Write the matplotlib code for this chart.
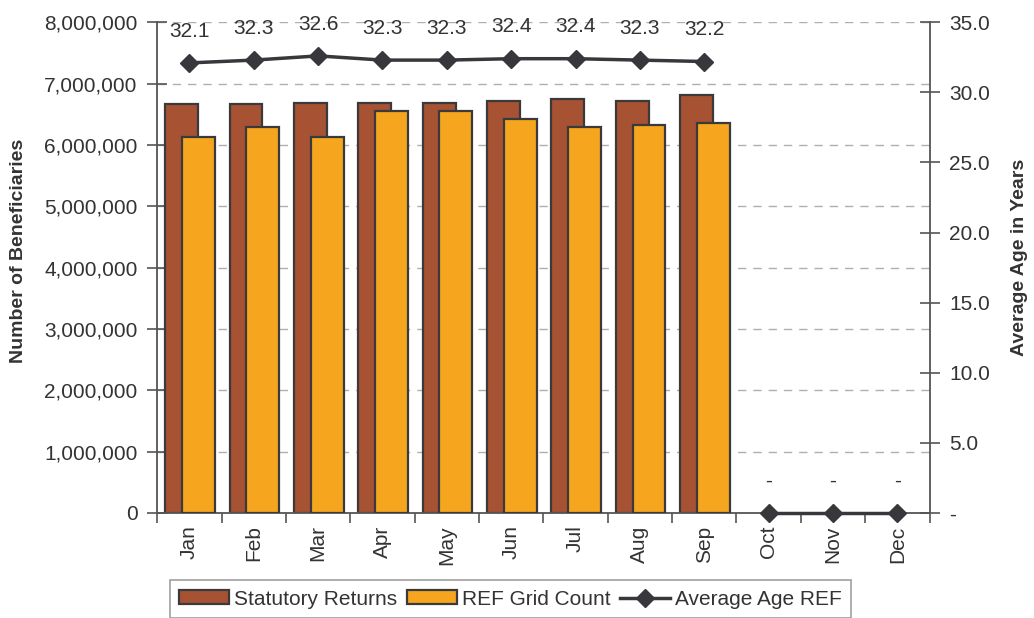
import numpy as np
import matplotlib
matplotlib.use('Agg')
import matplotlib.pyplot as plt
from matplotlib.ticker import FuncFormatter, FixedLocator
from matplotlib.lines import Line2D

plt.rcParams['font.family'] = ['Liberation Sans', 'DejaVu Sans']

# ---------------------------------------------------------------------------
# Data
# ---------------------------------------------------------------------------
months = ['Jan', 'Feb', 'Mar', 'Apr', 'May', 'Jun',
          'Jul', 'Aug', 'Sep', 'Oct', 'Nov', 'Dec']
statutory_returns = [6660000, 6660000, 6690000, 6690000, 6690000, 6720000,
                     6750000, 6720000, 6810000]
ref_grid_count = [6130000, 6300000, 6130000, 6550000, 6550000, 6430000,
                  6300000, 6320000, 6350000]
average_age = [32.1, 32.3, 32.6, 32.3, 32.3, 32.4, 32.4, 32.3, 32.2,
               0, 0, 0]

col_stat = '#A65233'
col_ref = '#F6A61E'
col_edge = '#3A3A3D'
col_line = '#38383C'
col_text = '#333333'
fs = 15

fig = plt.figure(figsize=(10.34, 6.18), dpi=100)
ax1 = fig.add_axes([0.152, 0.170, 0.747, 0.794])
ax2 = ax1.twinx()

x = np.arange(len(months))
n = len(statutory_returns)

# Bars (left axis)
ax1.bar(x[:n] - 0.12, statutory_returns, width=0.51, color=col_stat,
        edgecolor=col_edge, linewidth=1.6, zorder=2, label='Statutory Returns')
ax1.bar(x[:n] + 0.14, ref_grid_count, width=0.51, color=col_ref,
        edgecolor=col_edge, linewidth=1.6, zorder=3, label='REF Grid Count')

ax1.set_xlim(-0.5, len(months) - 0.5)
ax1.set_ylim(0, 8000000)
ax1.set_yticks(np.arange(0, 8000001, 1000000))
ax1.yaxis.set_major_formatter(FuncFormatter(lambda v, p: f'{int(v):,}'))
ax1.grid(axis='y', linestyle=(0, (6, 5)), color='#B5ADAD', linewidth=1.0)
ax1.set_axisbelow(True)

# month labels at centres, tick marks at boundaries
ax1.set_xticks(x)
ax1.set_xticklabels(months, rotation=90, fontsize=fs, color=col_text)
ax1.xaxis.set_minor_locator(FixedLocator(np.arange(-0.5, len(months), 1)))
ax1.tick_params(axis='x', which='major', length=0, pad=9)
ax1.tick_params(axis='x', which='minor', length=7, width=1.2, color='#555555')
ax1.tick_params(axis='y', direction='inout', length=14, width=1.2,
                color='#555555', labelsize=fs, labelcolor=col_text, pad=7)

for side in ['left', 'bottom']:
    ax1.spines[side].set_color('#555555')
    ax1.spines[side].set_linewidth(1.3)
ax1.spines['top'].set_visible(False)
ax1.spines['right'].set_visible(False)

ax1.set_ylabel('Number of Beneficiaries', fontsize=14, fontweight='bold',
               color=col_text)
ax1.yaxis.set_label_coords(-0.168, 0.535)

# Line (right axis): reported months joined, empty months as loose markers
ax2.plot(x[:n], average_age[:n], color=col_line, linewidth=2.5, marker='D',
         markersize=9, zorder=5, label='Average Age REF')
ax2.plot(x[n:], average_age[n:], color=col_line, linewidth=2.5, marker='D',
         markersize=9, zorder=5, clip_on=False)
ax2.set_ylim(0, 35)
ax2.set_yticks(np.arange(0, 35.1, 5))
ax2.yaxis.set_major_formatter(FuncFormatter(lambda v, p: '-' if v == 0 else f'{v:.1f}'))
ax2.tick_params(axis='y', direction='inout', length=14, width=1.2,
                color='#555555', labelsize=fs, labelcolor=col_text, pad=7)
ax2.spines['right'].set_color('#555555')
ax2.spines['right'].set_linewidth(1.3)
for side in ['top', 'left', 'bottom']:
    ax2.spines[side].set_visible(False)
ax2.set_ylabel('Average Age in Years', fontsize=14, fontweight='bold',
               color=col_text)
ax2.yaxis.set_label_coords(1.106, 0.52)

for xi, v in zip(x, average_age):
    txt = '-' if v == 0 else f'{v:.1f}'
    ax2.annotate(txt, (xi, v), xytext=(0, 19), textcoords='offset points',
                 ha='center', va='baseline', fontsize=fs, color=col_text)

# Legend
handles = [
    plt.Rectangle((0, 0), 1, 1, facecolor=col_stat, edgecolor=col_edge, linewidth=1.6),
    plt.Rectangle((0, 0), 1, 1, facecolor=col_ref, edgecolor=col_edge, linewidth=1.6),
    Line2D([], [], color=col_line, linewidth=2.5, marker='D', markersize=9),
]
labels = ['Statutory Returns', 'REF Grid Count', 'Average Age REF']
leg = fig.legend(handles, labels, loc='upper left', bbox_to_anchor=(0.164, 0.061),
                 ncol=3, fontsize=fs, frameon=True, fancybox=False,
                 edgecolor='#888888', handlelength=2.4, handleheight=0.65,
                 handletextpad=0.25, columnspacing=0.45, borderpad=0.45,
                 borderaxespad=0)
leg.get_frame().set_linewidth(1.2)
for t in leg.get_texts():
    t.set_color(col_text)

plt.savefig('out.png', dpi=100)
